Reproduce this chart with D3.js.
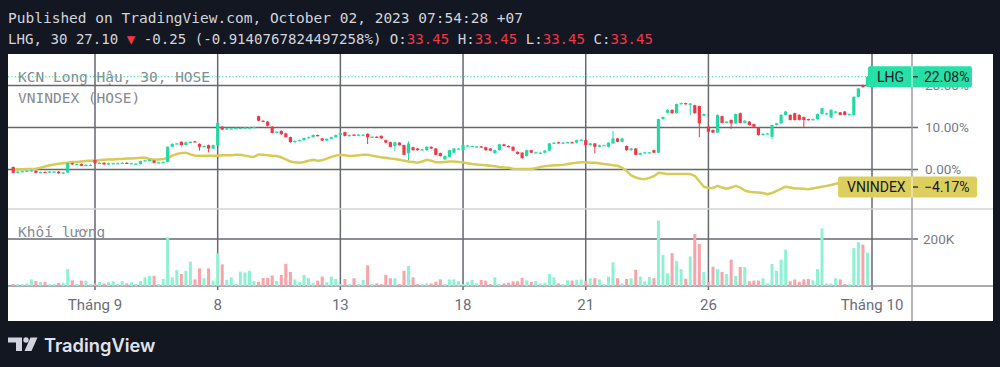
<!DOCTYPE html>
<html>
<head>
<meta charset="utf-8">
<script src="https://cdn.jsdelivr.net/npm/d3@7"></script>
<style>
html, body { margin: 0; padding: 0; background: #131722; }
svg { display: block; }
</style>
</head>
<body>
<svg id="chart" width="1000" height="367"></svg>
<script>
// trading days and 30 minute sessions (HOSE)
var days = ["2023-08-30", "2023-08-31", "2023-09-05", "2023-09-06", "2023-09-07", "2023-09-08",
    "2023-09-11", "2023-09-12", "2023-09-13", "2023-09-14", "2023-09-15", "2023-09-18",
    "2023-09-19", "2023-09-20", "2023-09-21", "2023-09-22", "2023-09-25", "2023-09-26",
    "2023-09-27", "2023-09-28", "2023-09-29", "2023-10-02"];
var sessions = ["09:00", "09:30", "10:00", "10:30", "11:00", "13:00", "13:30", "14:00", "14:30"];

var tickDays = ["2023-09-05", "2023-09-08", "2023-09-13", "2023-09-18", "2023-09-21", "2023-09-26", "2023-10-02"];
var tickLabels = ["Tháng 9", "8", "13", "18", "21", "26", "Tháng 10"];

var priceTicks = [0, 10, 20];
var volumeTicks = [200000];

// LHG, % change
var lhgOpen = [
    0.6, -0.8, -0.5, -0.4, -0.3, -0.3, -0.8, -0.6, -0.7, -0.5,
    -0.5, -0.9, -0.7, 1.5, 1.2, 1.3, 0.9, 1.1, 2.3, 1.5,
    1.6, 1.2, 1.5, 1.5, 1.5, 1.6, 1.5, 1.3, 1.3, 2.0,
    2.2, 2.1, 1.6, 1.7, 1.8, 5.4, 6.1, 6.6, 5.8, 6.5,
    6.7, 6.1, 5.4, 5.8, 5.0, 5.8, 10.2, 9.5, 9.8, 9.8,
    9.8, 9.9, 10.0, 10.0, 12.7, 11.6, 11.4, 10.2, 8.7, 9.2,
    8.6, 7.7, 6.5, 6.8, 7.0, 7.5, 7.7, 8.2, 7.4, 6.9,
    7.3, 7.7, 8.2, 8.9, 8.0, 8.3, 8.2, 8.2, 8.5, 7.7,
    7.8, 8.0, 7.0, 6.5, 5.6, 6.4, 5.8, 3.9, 5.3, 5.0,
    4.6, 4.6, 5.4, 5.0, 3.9, 2.4, 3.0, 4.0, 5.0, 4.6,
    5.6, 5.6, 5.4, 5.5, 5.3, 5.0, 3.9, 4.6, 6.0, 5.6,
    5.4, 4.2, 4.0, 3.2, 4.6, 4.0, 3.9, 4.0, 4.5, 6.2,
    6.5, 6.3, 6.4, 6.5, 6.4, 7.0, 7.0, 5.8, 6.2, 5.4,
    5.8, 5.4, 6.2, 7.4, 6.6, 5.6, 4.6, 5.0, 3.5, 3.9,
    4.0, 4.6, 4.0, 12.0, 13.5, 14.2, 13.4, 15.6, 15.8, 15.5,
    15.3, 15.1, 12.8, 10.2, 9.4, 8.8, 12.7, 11.1, 11.8, 11.0,
    13.4, 11.1, 11.4, 10.8, 10.0, 8.2, 8.5, 7.8, 10.6, 11.0,
    13.0, 13.0, 13.4, 13.0, 12.5, 12.0, 11.8, 12.0, 13.2, 13.2,
    12.4, 13.5, 13.6, 13.8, 13.0, 13.0, 17.3, 19.9, 19.8];
var lhgClose = [
    -0.8, -0.5, -0.4, -0.3, -0.2, -0.8, -0.6, -0.7, -0.5, -0.5,
    -0.9, -0.7, 1.5, 1.2, 1.3, 0.9, 1.1, 1.1, 1.5, 1.6,
    1.2, 1.5, 1.5, 1.5, 1.6, 1.5, 1.5, 1.4, 2.0, 2.2,
    2.3, 1.6, 1.7, 1.8, 5.4, 6.1, 6.2, 5.8, 6.5, 6.6,
    6.6, 5.4, 5.6, 5.0, 5.8, 11.1, 9.5, 9.8, 9.8, 9.9,
    9.9, 10.0, 10.0, 10.1, 11.6, 11.5, 10.4, 8.7, 9.0, 8.4,
    7.7, 6.5, 6.8, 7.0, 7.5, 7.7, 8.2, 8.0, 6.9, 7.3,
    7.7, 8.2, 8.7, 8.0, 8.2, 8.2, 8.3, 8.3, 7.7, 7.8,
    7.6, 7.4, 6.4, 5.4, 6.5, 5.8, 3.5, 6.2, 4.6, 4.6,
    4.8, 5.4, 5.0, 3.5, 3.2, 3.2, 4.6, 5.0, 5.0, 5.8,
    5.7, 5.6, 5.5, 5.3, 4.6, 4.5, 4.6, 6.0, 5.6, 5.4,
    4.5, 3.7, 2.7, 4.6, 4.0, 4.1, 4.0, 4.5, 6.2, 6.4,
    6.3, 6.4, 6.5, 6.4, 7.0, 7.1, 5.8, 6.2, 5.4, 5.8,
    5.8, 6.4, 7.4, 6.6, 7.4, 4.6, 5.0, 3.5, 3.9, 4.1,
    4.1, 4.0, 12.0, 12.5, 14.2, 13.4, 15.6, 15.8, 15.6, 15.7,
    13.4, 11.0, 13.2, 9.0, 8.8, 13.0, 11.1, 11.4, 11.0, 13.2,
    11.1, 11.6, 10.6, 10.2, 8.2, 8.5, 8.6, 10.6, 11.0, 13.0,
    13.8, 11.8, 11.8, 11.8, 11.8, 11.8, 12.0, 13.2, 14.6, 13.4,
    14.2, 13.8, 13.0, 13.0, 13.2, 17.3, 19.3, 19.8, 22.08];
// visible wicks: [bar, high, low]
var lhgWicks = [[41, 6.1, 4.6], [43, 5.8, 4.2], [78, 8.5, 6.2], [84, 6.5, 4.6], [87, 6.6, 2.3],
    [128, 6.2, 4.0], [132, 9.0, 6.2], [149, 15.7, 13.0], [151, 15.1, 7.8], [158, 11.8, 9.8],
    [167, 10.6, 7.3], [174, 12.5, 10.1], [187, 20.1, 19.6]];
// volume, thousands
var volume = [
    8, 8, 8, 11, 28, 21, 17, 18, 8, 8,
    13, 14, 72, 24, 8, 23, 23, 8, 10, 17,
    11, 16, 20, 8, 21, 11, 16, 8, 21, 37,
    43, 43, 8, 30, 207, 37, 68, 51, 65, 104,
    28, 75, 33, 75, 23, 139, 92, 26, 37, 8,
    61, 58, 65, 21, 18, 34, 34, 45, 21, 47,
    94, 60, 28, 16, 47, 33, 14, 23, 40, 16,
    40, 30, 8, 30, 8, 33, 8, 26, 88, 8,
    11, 8, 48, 33, 33, 8, 65, 85, 37, 8,
    8, 11, 11, 18, 28, 8, 28, 28, 21, 8,
    18, 26, 11, 26, 23, 8, 37, 8, 11, 14,
    20, 20, 35, 24, 17, 21, 11, 14, 51, 37,
    11, 8, 24, 23, 27, 28, 21, 33, 34, 28,
    8, 40, 101, 33, 11, 30, 33, 69, 40, 20,
    38, 33, 278, 132, 54, 140, 106, 72, 31, 126,
    221, 179, 60, 17, 82, 71, 60, 51, 112, 43,
    81, 81, 20, 23, 23, 33, 11, 94, 65, 112,
    155, 20, 28, 18, 28, 30, 24, 72, 245, 11,
    11, 33, 28, 8, 8, 162, 187, 176, 142];
// VNINDEX, % change
var vnindex = [
    0.05, 0.05, 0.05, 0.1, 0.1, 0.2, 0.4, 0.7, 1.0, 1.2,
    1.35, 1.5, 1.6, 1.8, 1.8, 1.9, 2.0, 2.1, 2.1, 2.2,
    2.3, 2.4, 2.4, 2.5, 2.5, 2.6, 2.6, 2.7, 2.8, 2.8,
    2.5, 2.3, 2.4, 2.5, 2.7, 3.3, 3.7, 3.9, 4.0, 3.6,
    3.3, 3.3, 3.3, 3.3, 3.3, 3.3, 3.4, 3.4, 3.4, 3.5,
    3.5, 3.3, 3.1, 3.0, 3.6, 3.5, 3.4, 3.3, 3.2, 2.9,
    2.4, 1.9, 1.7, 1.6, 1.8, 2.1, 2.3, 2.1, 2.2, 2.6,
    3.0, 3.3, 3.5, 3.4, 3.2, 3.3, 3.4, 3.5, 3.5, 3.3,
    3.1, 2.9, 2.8, 2.6, 2.5, 2.3, 2.1, 1.9, 1.8, 1.6,
    1.9, 2.3, 2.1, 1.7, 1.7, 1.8, 1.9, 1.9, 1.8, 1.7,
    1.5, 1.3, 1.2, 1.1, 1.0, 0.9, 0.8, 0.6, 0.5, 0.4,
    0.2, 0.1, 0.1, 0.1, 0.1, 0.3, 0.6, 0.8, 0.9, 1.0,
    1.0, 1.1, 1.3, 1.5, 1.6, 1.7, 1.7, 1.6, 1.6, 1.5,
    1.3, 1.2, 1.0, 0.9, 0.4, -0.3, -1.4, -1.9, -2.2, -2.3,
    -2.0, -1.6, -0.8, -0.9, -1.1, -1.1, -1.1, -1.1, -1.1, -1.1,
    -1.5, -2.8, -4.1, -4.4, -4.4, -3.9, -4.3, -4.6, -4.3, -3.9,
    -4.3, -5.0, -5.3, -5.4, -5.5, -5.6, -5.9, -5.6, -5.1, -4.6,
    -4.1, -4.3, -4.5, -4.5, -4.6, -4.7, -4.5, -4.3, -4.1, -3.9,
    -3.7, -3.4, -3.2, -3.4, -3.7, -3.9, -4.0, -4.1, -4.17];

var upColor = "#22d9a2", downColor = "#f23645";
var volUp = "#8ef2d2", volDown = "#f8a3a9";
var vnColor = "#d8cb55";
var gridColor = "#666870";

var svg = d3.select("#chart");
var panel = {left: 8, right: 993, top: 54, bottom: 321};
var axisX = 912, mainBottom = 209, volBottom = 286;

var x = d3.scaleLinear()
    .domain([0, (days.length - 1) * sessions.length])
    .range([13.2, 872]);
var y = d3.scaleLinear().domain([0, 20]).range([169.5, 85.5]);
var yVol = d3.scaleLinear().domain([0, 200000]).range([volBottom, 239]);

var bars = lhgClose.map(function(c, i) {
    var o = lhgOpen[i];
    return {i: i, day: days[Math.floor(i / sessions.length)], time: sessions[i % sessions.length],
        o: o, c: c, h: Math.max(o, c), l: Math.min(o, c), v: volume[i] * 1000, vn: vnindex[i]};
});
lhgWicks.forEach(function(w) { bars[w[0]].h = w[1]; bars[w[0]].l = w[2]; });

// panel
svg.append("rect").attr("x", panel.left).attr("y", panel.top)
    .attr("width", panel.right - panel.left).attr("height", panel.bottom - panel.top)
    .attr("fill", "#ffffff");

var defs = svg.append("defs");
defs.append("clipPath").attr("id", "mainClip").append("rect")
    .attr("x", panel.left).attr("y", panel.top).attr("width", axisX - panel.left).attr("height", mainBottom - panel.top);

// grid
var grid = svg.append("g").attr("stroke", gridColor).attr("stroke-width", 1.5);
grid.selectAll(".vgrid").data(tickDays).enter().append("line")
    .attr("x1", function(d) { return x(days.indexOf(d) * sessions.length); })
    .attr("x2", function(d) { return x(days.indexOf(d) * sessions.length); })
    .attr("y1", panel.top).attr("y2", volBottom + 4);
grid.selectAll(".hgrid").data(priceTicks).enter().append("line")
    .attr("x1", panel.left).attr("x2", axisX + 6)
    .attr("y1", function(d) { return y(d); }).attr("y2", function(d) { return y(d); });
grid.selectAll(".vol-grid").data(volumeTicks).enter().append("line")
    .attr("x1", panel.left).attr("x2", axisX + 6)
    .attr("y1", function(d) { return yVol(d); }).attr("y2", function(d) { return yVol(d); });

// pane separators
svg.append("line").attr("x1", panel.left).attr("x2", panel.right).attr("y1", mainBottom).attr("y2", mainBottom)
    .attr("stroke", "#d3d4d8").attr("stroke-width", 1.5);
svg.append("line").attr("x1", panel.left).attr("x2", panel.right).attr("y1", volBottom).attr("y2", volBottom)
    .attr("stroke", "#8e9096").attr("stroke-width", 1.5);
svg.append("line").attr("x1", axisX).attr("x2", axisX).attr("y1", panel.top).attr("y2", panel.bottom)
    .attr("stroke", "#9a9ca2").attr("stroke-width", 1.5);

// legends
var mono = "'DejaVu Sans Mono', 'Liberation Mono', monospace";
svg.append("text").attr("x", 18).attr("y", 82).attr("font-family", mono).attr("font-size", 14.5)
    .attr("fill", "#868993").text("KCN Long Hậu, 30, HOSE");
svg.append("text").attr("x", 18).attr("y", 103).attr("font-family", mono).attr("font-size", 14.5)
    .attr("fill", "#868993").text("VNINDEX (HOSE)");
svg.append("text").attr("x", 18).attr("y", 237).attr("font-family", mono).attr("font-size", 14.5)
    .attr("fill", "#868993").text("Khối lượng");

// VNINDEX compare line
var main = svg.append("g").attr("clip-path", "url(#mainClip)");
main.append("path").datum(bars)
    .attr("fill", "none").attr("stroke", vnColor).attr("stroke-width", 2.5)
    .attr("stroke-linejoin", "round")
    .attr("d", d3.line().x(function(d) { return x(d.i); }).y(function(d) { return y(d.vn); }));

// candles
var candle = main.selectAll(".candle").data(bars).enter().append("g").attr("class", "candle");
candle.append("line")
    .attr("x1", function(d) { return x(d.i); }).attr("x2", function(d) { return x(d.i); })
    .attr("y1", function(d) { return y(d.h) - 0.5; }).attr("y2", function(d) { return y(d.l) + 0.5; })
    .attr("stroke", function(d) { return d.c >= d.o ? upColor : downColor; }).attr("stroke-width", 1);
candle.append("rect")
    .attr("x", function(d) { return x(d.i) - 1.6; })
    .attr("width", 3.2)
    .attr("y", function(d) { return y(Math.max(d.o, d.c)); })
    .attr("height", function(d) { return Math.max(1.2, Math.abs(y(d.o) - y(d.c))); })
    .attr("fill", function(d) { return d.c >= d.o ? upColor : downColor; });

// volume
svg.selectAll(".vol").data(bars).enter().append("rect")
    .attr("x", function(d) { return x(d.i) - 1.5; })
    .attr("width", 3)
    .attr("y", function(d) { return yVol(d.v); })
    .attr("height", function(d) { return volBottom - yVol(d.v); })
    .attr("fill", function(d) { return d.c >= d.o ? volUp : volDown; });

// last price line
var last = bars[bars.length - 1];
svg.append("line").attr("x1", panel.left).attr("x2", x(last.i))
    .attr("y1", y(last.c)).attr("y2", y(last.c))
    .attr("stroke", upColor).attr("stroke-width", 1.2).attr("stroke-dasharray", "1.2,2.2");

// axis labels
var sans = "Roboto, 'Noto Sans', sans-serif";
svg.selectAll(".xlabel").data(tickDays).enter().append("text")
    .attr("x", function(d) { return x(days.indexOf(d) * sessions.length); })
    .attr("y", 310).attr("text-anchor", "middle")
    .attr("font-family", sans).attr("font-size", 15).attr("fill", "#6a6d78")
    .text(function(d, i) { return tickLabels[i]; });
svg.selectAll(".ylabel").data(priceTicks).enter().append("text")
    .attr("x", 925).attr("y", function(d) { return y(d); }).attr("dy", "0.36em")
    .attr("font-family", sans).attr("font-size", 13.5).attr("fill", "#787b86")
    .text(function(d) { return d.toFixed(2) + "%"; });
svg.selectAll(".vlabel").data(volumeTicks).enter().append("text")
    .attr("x", 923).attr("y", function(d) { return yVol(d); }).attr("dy", "0.36em")
    .attr("font-family", sans).attr("font-size", 13.5).attr("fill", "#787b86")
    .text(function(d) { return (d / 1000) + "K"; });

// price labels on the scale
function priceLabel(name, value, color, left, right) {
    var yy = y(value);
    var g = svg.append("g");
    g.append("rect").attr("x", left).attr("y", yy - 10.5).attr("width", right - left).attr("height", 21)
        .attr("rx", 2).attr("fill", color);
    g.append("line").attr("x1", axisX).attr("x2", axisX).attr("y1", yy - 10.5).attr("y2", yy + 10.5)
        .attr("stroke", "rgba(255,255,255,0.55)").attr("stroke-width", 1.5);
    g.append("line").attr("x1", axisX + 1).attr("x2", axisX + 6).attr("y1", yy).attr("y2", yy)
        .attr("stroke", "#131722").attr("stroke-width", 1.2);
    g.append("text").attr("x", left + 9).attr("y", yy).attr("dy", "0.36em")
        .attr("font-family", sans).attr("font-size", 14).attr("fill", "#131722").text(name);
    g.append("text").attr("x", 924).attr("y", yy).attr("dy", "0.36em")
        .attr("font-family", sans).attr("font-size", 14).attr("fill", "#131722")
        .text((value < 0 ? "\u2212" + (-value).toFixed(2) : value.toFixed(2)) + "%");
}
priceLabel("LHG", last.c, "#26e0a8", 868, 972);
priceLabel("VNINDEX", last.vn, "#dccf5e", 838, 977);

// header
svg.append("text").attr("x", 8).attr("y", 22.5).attr("font-family", mono).attr("font-size", 14.5)
    .attr("fill", "#d1d4dc").text("Published on TradingView.com, October 02, 2023 07:54:28 +07");
var h2 = svg.append("text").attr("x", 8).attr("y", 44.3).attr("font-family", mono).attr("font-size", 14.1)
    .attr("fill", "#d1d4dc").style("white-space", "pre");
[["LHG, 30 27.10 ", "#d1d4dc"], ["\u25BC", "#f23645"], [" -0.25 (-0.9140767824497258%) O:", "#d1d4dc"],
 ["33.45", "#f23645"], [" H:", "#d1d4dc"], ["33.45", "#f23645"], [" L:", "#d1d4dc"], ["33.45", "#f23645"],
 [" C:", "#d1d4dc"], ["33.45", "#f23645"]].forEach(function(p) {
    h2.append("tspan").attr("fill", p[1]).text(p[0]);
});

// TradingView logo
var logo = svg.append("g").attr("fill", "#d1d4dc");
logo.append("path").attr("d", "M8,337.5 H22 V351 H16 V342.5 H8 Z");
logo.append("circle").attr("cx", 26).attr("cy", 340).attr("r", 2.7);
logo.append("path").attr("d", "M30.5,337.5 H37.5 L31.5,351 H24.5 Z");
svg.append("text").attr("x", 44).attr("y", 351.5).attr("font-family", "Inter, Lato, sans-serif")
    .attr("font-weight", 600).attr("font-size", 18.3).attr("fill", "#e0e3eb").text("TradingView");
</script>
</body>
</html>
